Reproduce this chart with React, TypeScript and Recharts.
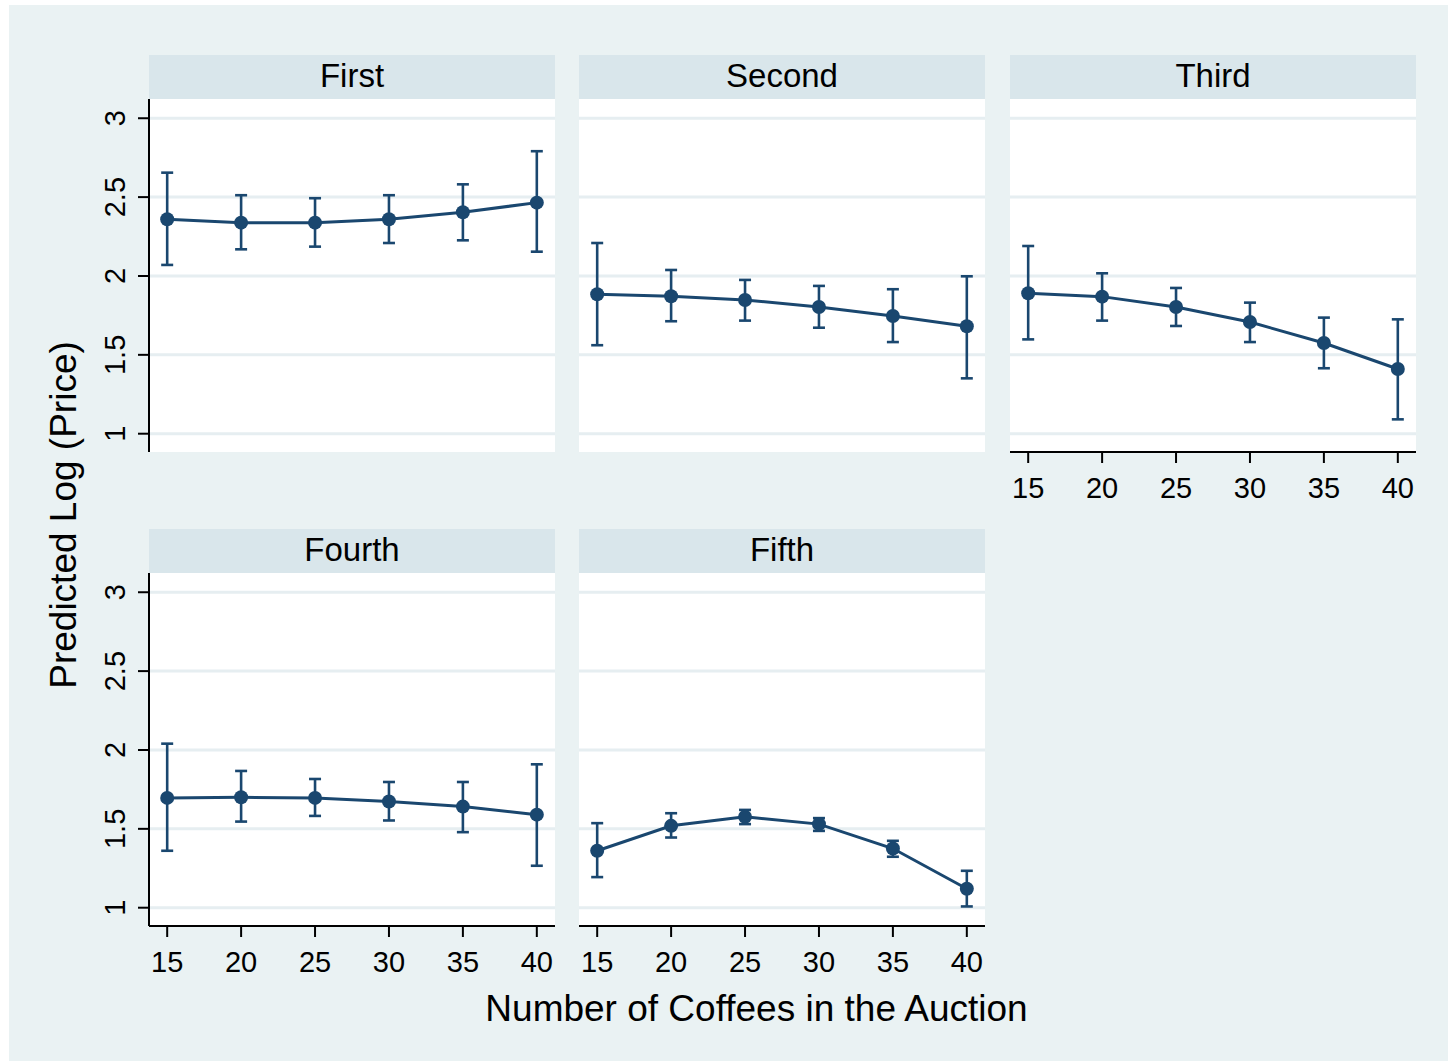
import React from 'react';
import { ComposedChart, Line, ErrorBar, XAxis, YAxis, CartesianGrid } from 'recharts';

// Number of coffees offered in the auction (x positions shared by every panel)
const xValues = [15, 20, 25, 30, 35, 40];
const xTicks = [15, 20, 25, 30, 35, 40];
const yTicks = [1, 1.5, 2, 2.5, 3];

const panelTitles = ['First', 'Second', 'Third', 'Fourth', 'Fifth'];

// Predicted log price and its confidence interval, one set per auction position
const firstEst = [2.36, 2.338, 2.338, 2.36, 2.404, 2.465];
const firstLo = [2.07, 2.169, 2.186, 2.209, 2.226, 2.154];
const firstHi = [2.655, 2.512, 2.493, 2.512, 2.581, 2.791];

const secondEst = [1.884, 1.871, 1.848, 1.803, 1.746, 1.681];
const secondLo = [1.561, 1.713, 1.717, 1.672, 1.581, 1.351];
const secondHi = [2.209, 2.038, 1.975, 1.937, 1.916, 1.998];

const thirdEst = [1.89, 1.869, 1.803, 1.708, 1.575, 1.41];
const thirdLo = [1.598, 1.717, 1.683, 1.581, 1.415, 1.091];
const thirdHi = [2.19, 2.017, 1.924, 1.831, 1.736, 1.725];

const fourthEst = [1.696, 1.7, 1.696, 1.673, 1.641, 1.59];
const fourthLo = [1.361, 1.546, 1.582, 1.553, 1.479, 1.266];
const fourthHi = [2.04, 1.867, 1.816, 1.797, 1.797, 1.909];

const fifthEst = [1.361, 1.519, 1.576, 1.53, 1.375, 1.12];
const fifthLo = [1.194, 1.445, 1.53, 1.487, 1.323, 1.008];
const fifthHi = [1.536, 1.599, 1.62, 1.568, 1.424, 1.234];

const xTitle = 'Number of Coffees in the Auction';
const yTitle = 'Predicted Log (Price)';

const FONT = '"Liberation Sans", Arial, Helvetica, sans-serif';
const NAVY = '#1A476F';
const GRAPH_BG = '#EAF2F3';
const STRIP_BG = '#D9E6EB';
const GRID = '#E6EEF1';

const X_DOMAIN: [number, number] = [13.77, 41.23];
const Y_DOMAIN: [number, number] = [0.884, 3.122];

// panel geometry
const COL_X = [149, 579, 1010];
const ROW_TOP = [55, 529];
const PANEL_W = 406;
const STRIP_H = 44;
const PLOT_H = 353;
const LEFT_EXTRA = 100;
const RIGHT_EXTRA = 10;
const BOTTOM_EXTRA = 70;

const seriesList = [
  { est: firstEst, lo: firstLo, hi: firstHi },
  { est: secondEst, lo: secondLo, hi: secondHi },
  { est: thirdEst, lo: thirdLo, hi: thirdHi },
  { est: fourthEst, lo: fourthLo, hi: fourthHi },
  { est: fifthEst, lo: fifthLo, hi: fifthHi },
];

const buildRows = (est: number[], lo: number[], hi: number[]) =>
  xValues.map((x, i) => ({
    x,
    est: est[i],
    err: [est[i] - lo[i], hi[i] - est[i]],
  }));

const YTick = (props: any) => {
  const { x, y, payload } = props;
  return (
    <text
      x={x}
      y={y}
      transform={`rotate(-90 ${x} ${y})`}
      textAnchor="middle"
      fontSize={29}
      fontFamily={FONT}
      fill="#000"
    >
      {payload.value}
    </text>
  );
};

// solid filled circle marker
const Marker = (props: any) => {
  const { cx, cy, index } = props;
  if (cx == null || cy == null) return <g key={`m-${index}`} />;
  return <circle key={`m-${index}`} cx={cx} cy={cy} r={7} fill={NAVY} />;
};

const Panel = ({ index }: { index: number }) => {
  const col = index % 3;
  const row = Math.floor(index / 3);
  const showY = col === 0;
  const showX = row === 1 || index === 2;
  const s = seriesList[index];
  const data = buildRows(s.est, s.lo, s.hi);
  const width = PANEL_W + LEFT_EXTRA + RIGHT_EXTRA;
  const height = PLOT_H + BOTTOM_EXTRA;
  return (
    <div
      style={{
        position: 'absolute',
        left: COL_X[col] - LEFT_EXTRA,
        top: ROW_TOP[row] + STRIP_H,
        width,
        height,
      }}
    >
      <ComposedChart
        width={width}
        height={height}
        data={data}
        margin={{
          top: 0,
          right: RIGHT_EXTRA,
          left: showY ? 0 : LEFT_EXTRA,
          bottom: showX ? 0 : BOTTOM_EXTRA,
        }}
      >
        <CartesianGrid
          vertical={false}
          horizontalValues={yTicks}
          stroke={GRID}
          strokeWidth={3}
          fill="#FFFFFF"
          fillOpacity={1}
        />
        <XAxis
          dataKey="x"
          type="number"
          domain={X_DOMAIN}
          allowDataOverflow
          ticks={xTicks}
          interval={0}
          hide={!showX}
          height={BOTTOM_EXTRA}
          axisLine={{ stroke: '#000', strokeWidth: 2 }}
          tickLine={{ stroke: '#000', strokeWidth: 2 }}
          tickSize={11}
          tickMargin={14}
          tick={{ fontSize: 29, fontFamily: FONT, fill: '#000' }}
        />
        <YAxis
          type="number"
          domain={Y_DOMAIN}
          allowDataOverflow
          ticks={yTicks}
          interval={0}
          hide={!showY}
          width={LEFT_EXTRA}
          axisLine={{ stroke: '#000', strokeWidth: 2 }}
          tickLine={{ stroke: '#000', strokeWidth: 2 }}
          tickSize={11}
          tickMargin={13}
          tick={<YTick />}
        />
        <Line
          dataKey="est"
          stroke={NAVY}
          strokeWidth={3}
          dot={Marker}
          activeDot={false}
          isAnimationActive={false}
        >
          <ErrorBar
            dataKey="err"
            direction="y"
            width={6}
            stroke={NAVY}
            strokeWidth={2.6}
            isAnimationActive={false}
          />
        </Line>
      </ComposedChart>
    </div>
  );
};

export default function App() {
  return (
    <div
      style={{
        position: 'absolute',
        left: 0,
        top: 0,
        width: 1448,
        height: 1062,
        background: '#FFFFFF',
        fontFamily: FONT,
      }}
    >
      <svg
        width={1448}
        height={1062}
        style={{ position: 'absolute', left: 0, top: 0 }}
      >
        <rect x={9} y={5} width={1439} height={1056} fill={GRAPH_BG} />
        {panelTitles.map((title, i) => {
          const col = i % 3;
          const row = Math.floor(i / 3);
          return (
            <g key={title}>
              <rect
                x={COL_X[col]}
                y={ROW_TOP[row]}
                width={PANEL_W}
                height={STRIP_H}
                fill={STRIP_BG}
              />
              <text
                x={COL_X[col] + PANEL_W / 2}
                y={ROW_TOP[row] + 32}
                textAnchor="middle"
                fontSize={33}
                fontFamily={FONT}
                fill="#000"
              >
                {title}
              </text>
            </g>
          );
        })}
        <text
          x={756.5}
          y={1021}
          textAnchor="middle"
          fontSize={37}
          fontFamily={FONT}
          fill="#000"
        >
          {xTitle}
        </text>
        <text
          x={76}
          y={515}
          transform="rotate(-90 76 515)"
          textAnchor="middle"
          fontSize={37}
          fontFamily={FONT}
          fill="#000"
        >
          {yTitle}
        </text>
      </svg>
      {panelTitles.map((t, i) => (
        <Panel key={t} index={i} />
      ))}
    </div>
  );
}
